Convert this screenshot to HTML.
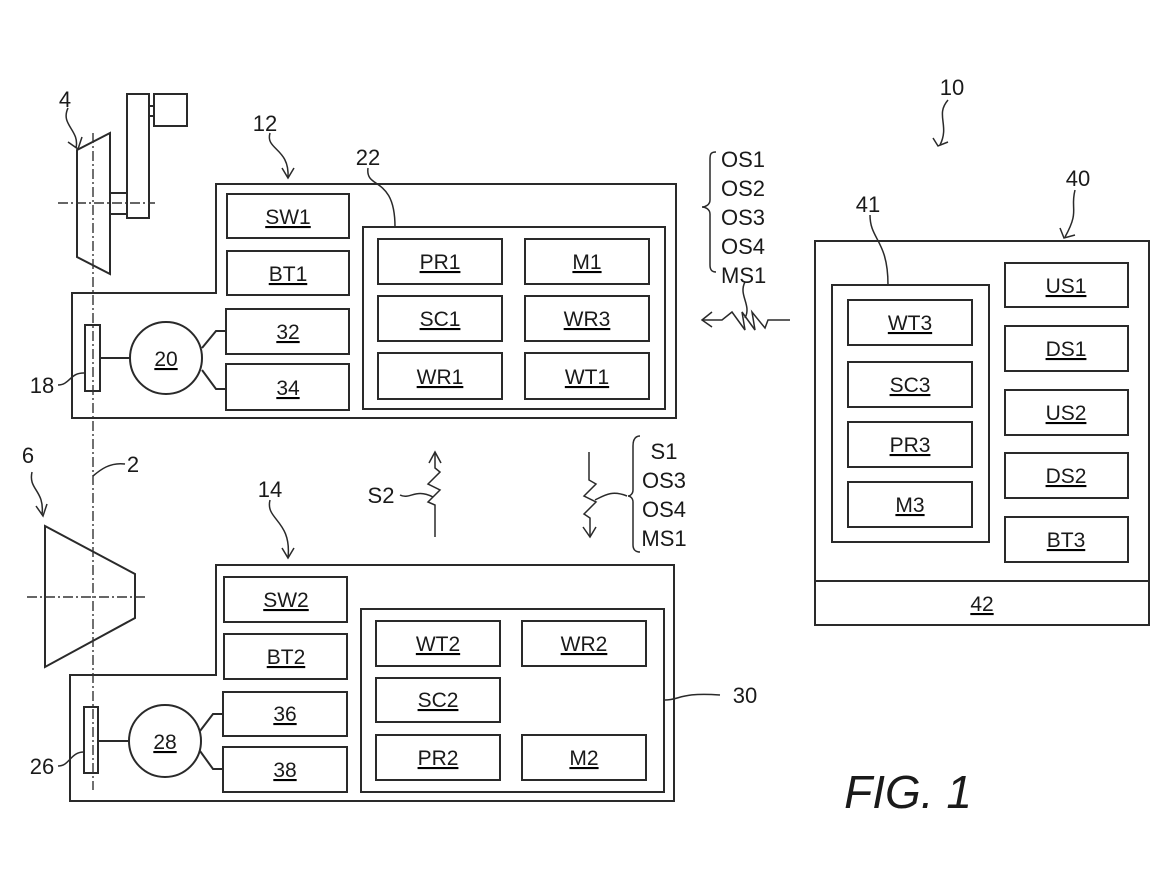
<!DOCTYPE html>
<html><head><meta charset="utf-8"><style>
html,body{margin:0;padding:0;background:#fff;}
svg{display:block;}
text{font-family:"Liberation Sans",sans-serif;fill:#1a1a1a;}
</style></head><body>
<svg width="1170" height="877" viewBox="0 0 1170 877" xmlns="http://www.w3.org/2000/svg">
<g fill="none" stroke="#2a2a2a" stroke-width="2">
<path d="M216,184 H676 V418 H72 V293 H216 Z"/>
<rect x="363" y="227" width="302" height="182"/>
<rect x="378" y="239" width="124" height="45"/><rect x="525" y="239" width="124" height="45"/>
<rect x="378" y="296" width="124" height="45"/><rect x="525" y="296" width="124" height="45"/>
<rect x="378" y="353" width="124" height="46"/><rect x="525" y="353" width="124" height="46"/>
<rect x="227" y="194" width="122" height="44"/><rect x="227" y="251" width="122" height="44"/>
<rect x="226" y="309" width="123" height="45"/><rect x="226" y="364" width="123" height="46"/>
<circle cx="166" cy="358" r="36"/>
<rect x="85" y="325" width="15" height="66"/>
<path d="M100,358 H130 M202,348 L216,331 H226 M202,370 L216,389 H226"/>
<path d="M77,150 L110,133 V274 L77,257 Z"/>
<rect x="110" y="193" width="17" height="21"/>
<rect x="127" y="94" width="22" height="124"/>
<rect x="149" y="106" width="5" height="10"/>
<rect x="154" y="94" width="33" height="32"/>
<path d="M45,526 L135,574 V618 L45,667 Z"/>
<path d="M216,565 H674 V801 H70 V675 H216 Z"/>
<rect x="361" y="609" width="303" height="183"/>
<rect x="376" y="621" width="124" height="45"/><rect x="522" y="621" width="124" height="45"/>
<rect x="376" y="678" width="124" height="44"/>
<rect x="376" y="735" width="124" height="45"/><rect x="522" y="735" width="124" height="45"/>
<rect x="224" y="577" width="123" height="45"/><rect x="224" y="634" width="123" height="45"/>
<rect x="223" y="692" width="124" height="44"/><rect x="223" y="747" width="124" height="45"/>
<circle cx="165" cy="741" r="36"/>
<rect x="84" y="707" width="14" height="66"/>
<path d="M98,741 H129 M200,731 L213,714 H223 M200,751 L213,769 H223"/>
<rect x="815" y="241" width="334" height="384"/>
<path d="M815,581 H1149"/>
<rect x="832" y="285" width="157" height="257"/>
<rect x="848" y="300" width="124" height="45"/><rect x="848" y="362" width="124" height="45"/>
<rect x="848" y="422" width="124" height="45"/><rect x="848" y="482" width="124" height="45"/>
<rect x="1005" y="263" width="123" height="44"/><rect x="1005" y="326" width="123" height="45"/>
<rect x="1005" y="390" width="123" height="45"/><rect x="1005" y="453" width="123" height="45"/>
<rect x="1005" y="517" width="123" height="45"/>
</g>
<g fill="none" stroke="#333" stroke-width="1.4" stroke-dasharray="10,3,2,3">
<path d="M93,133 V790"/>
<path d="M58,203 H155"/>
<path d="M27,597 H147"/>
</g>
<g fill="none" stroke="#2a2a2a" stroke-width="1.5">
<path d="M68,108 C60,125 80,130 76,148"/><path d="M68,142 L78,149 L82,137"/>
<path d="M270,133 C265,150 290,148 288,178"/><path d="M282,168 L288,178 L294,168"/>
<path d="M368,168 C365,190 395,175 395,227"/>
<path d="M270,500 C265,520 292,520 288,558"/><path d="M282,548 L288,558 L294,548"/>
<path d="M32,472 C28,490 45,490 42,515"/><path d="M36,506 L43,516 L47,504"/>
<path d="M93,476 C100,470 110,462 125,464"/>
<path d="M58,385 C70,385 70,372 85,373"/>
<path d="M58,766 C70,766 70,752 84,752"/>
<path d="M665,700 C680,700 680,692 720,695"/>
<path d="M948,100 C935,115 950,125 940,145"/><path d="M933,138 L938,146 L948,142"/>
<path d="M1075,190 C1070,210 1080,210 1065,237"/><path d="M1060,228 L1064,238 L1075,235"/>
<path d="M870,215 C870,240 888,240 888,285"/>
<path d="M716,152 C710,152 710,155 710,160 V200 C710,205 705,207 702,207 C705,207 710,209 710,214 V265 C710,270 712,272 716,272"/>
<path d="M790,320 H768 L765,328 L752,312 L755,330 L742,312 L745,330 L732,312 L722,320 H702"/>
<path d="M712,312 L702,320 L712,327"/>
<path d="M745,282 C738,295 752,305 745,318"/>
<path d="M435,537 V505 L428,502 L440,490 L428,484 L440,472 L435,468 V452"/>
<path d="M429,463 L435,452 L441,463"/>
<path d="M400,495 C410,500 415,488 433,497"/>
<path d="M589,452 V480 L596,484 L584,496 L596,502 L584,514 L590,518 V537"/>
<path d="M583,527 L590,537 L596,527"/>
<path d="M595,500 C605,495 612,490 627,496"/>
<path d="M640,436 C635,436 633,440 633,446 V490 C633,494 630,496 628,496 C630,496 633,498 633,502 V545 C633,550 636,552 640,552"/>
</g>
<g font-size="22">
<text x="265" y="131" text-anchor="middle">12</text>
<text x="368" y="165" text-anchor="middle">22</text>
<text x="65" y="107" text-anchor="middle">4</text>
<text x="28" y="463" text-anchor="middle">6</text>
<text x="133" y="472" text-anchor="middle">2</text>
<text x="42" y="393" text-anchor="middle">18</text>
<text x="42" y="774" text-anchor="middle">26</text>
<text x="270" y="497" text-anchor="middle">14</text>
<text x="745" y="703" text-anchor="middle">30</text>
<text x="952" y="95" text-anchor="middle">10</text>
<text x="1078" y="186" text-anchor="middle">40</text>
<text x="868" y="212" text-anchor="middle">41</text>
<text x="381" y="503" text-anchor="middle">S2</text>
<text x="721" y="167">OS1</text><text x="721" y="196">OS2</text><text x="721" y="225">OS3</text><text x="721" y="254">OS4</text><text x="721" y="283">MS1</text>
<text x="664" y="459" text-anchor="middle">S1</text><text x="664" y="488" text-anchor="middle">OS3</text><text x="664" y="517" text-anchor="middle">OS4</text><text x="664" y="546" text-anchor="middle">MS1</text>
</g>
<g font-size="21" text-anchor="middle" text-decoration="underline">
<text x="288" y="224">SW1</text><text x="288" y="281">BT1</text><text x="288" y="339">32</text><text x="288" y="395">34</text>
<text x="166" y="366">20</text>
<text x="440" y="269">PR1</text><text x="587" y="269">M1</text>
<text x="440" y="326">SC1</text><text x="587" y="326">WR3</text>
<text x="440" y="384">WR1</text><text x="587" y="384">WT1</text>
<text x="286" y="607">SW2</text><text x="286" y="664">BT2</text><text x="285" y="721">36</text><text x="285" y="777">38</text>
<text x="165" y="749">28</text>
<text x="438" y="651">WT2</text><text x="584" y="651">WR2</text>
<text x="438" y="707">SC2</text>
<text x="438" y="765">PR2</text><text x="584" y="765">M2</text>
<text x="910" y="330">WT3</text><text x="910" y="392">SC3</text><text x="910" y="452">PR3</text><text x="910" y="512">M3</text>
<text x="1066" y="293">US1</text><text x="1066" y="356">DS1</text><text x="1066" y="420">US2</text><text x="1066" y="483">DS2</text><text x="1066" y="547">BT3</text>
<text x="982" y="611">42</text>
</g>
<text x="908" y="808" font-size="46" font-style="italic" text-anchor="middle">FIG. 1</text>
</svg>
</body></html>
